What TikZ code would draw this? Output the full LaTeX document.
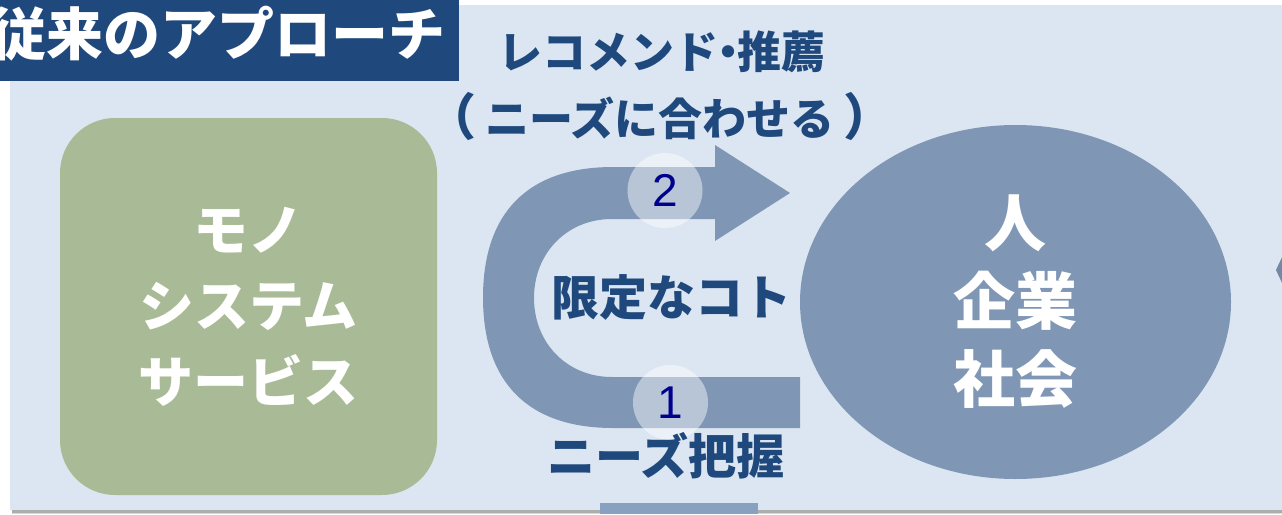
\documentclass[tikz,border=0pt]{standalone}
\usepackage{fontspec}
\setmainfont{Noto Sans CJK JP}
\newfontfamily\numfont{Liberation Sans}
\usetikzlibrary{shapes.geometric}
\definecolor{panelbg}{HTML}{DCE6F2}
\definecolor{titleblue}{HTML}{1F497D}
\definecolor{shapeblue}{HTML}{7F97B5}
\definecolor{boxgreen}{HTML}{A9BB96}
\definecolor{numblue}{HTML}{00008F}
\definecolor{barblue}{HTML}{89A1C0}
\begin{document}
\begin{tikzpicture}[x=1pt,y=-1pt,
  darklabel/.style={text=titleblue, inner sep=0pt, font=\bfseries\fontsize{44}{52}\selectfont},
  biglabel/.style={text=titleblue, inner sep=0pt, font=\bfseries\fontsize{48}{56}\selectfont},
  numcircle/.style={circle, fill=white, fill opacity=0.45, text opacity=1, text=numblue, minimum size=75pt, inner sep=0pt, font=\numfont\fontsize{46}{50}\selectfont},
  whitetext/.style={text=white, align=center}
]
\useasboundingbox (0,0) rectangle (1282,514);
\fill[white] (0,0) rectangle (1282,514);
% panel with shadow
\fill[black!32] (12,508) rectangle (1282,512.5);
\fill[black!15] (12,512.5) rectangle (1282,514);
\fill[panelbg] (10,5) rectangle (1282,510);
% title
\node[fill=titleblue, minimum width=459pt, minimum height=80.5pt, inner sep=0pt, anchor=north west] (titlebox) at (0,0) {};
\node[text=white, inner sep=0pt, font=\bfseries\fontsize{57}{60}\selectfont] (title) at (218,34) {従来のアプローチ};
% left box
\node[fill=boxgreen, rounded corners=55pt, minimum width=377pt, minimum height=377pt, inner sep=0pt,
      whitetext, font=\bfseries\fontsize{55}{76}\selectfont] (mono) at (248.5,306.5) {モノ\\システム\\サービス};
% right ellipse
\node[ellipse, fill=shapeblue, minimum width=431pt, minimum height=354pt, inner sep=0pt,
      whitetext, font=\bfseries\fontsize{62}{78}\selectfont] (hito) at (1015.5,302) {人\\企業\\社会};
% partially visible shape at right edge
\fill[shapeblue!90!black] (1276,270) -- (1283,255) -- (1283,285) -- cycle;
% bottom bar
\fill[barblue] (600,503) rectangle (758,514);
% U-turn arrow
\fill[shapeblue] (715,167) -- (613,167)
  .. controls (528,167) and (483,212.5) .. (483,297.5)
  .. controls (483,382.5) and (528,428) .. (613,428)
  -- (800,428) -- (800,377) -- (612,377)
  .. controls (567,377) and (534,343) .. (534,298)
  .. controls (534,253) and (567,219) .. (612,219)
  -- (715,219) -- (715,241) -- (790,193) -- (715,145) -- cycle;
% number circles
\node[numcircle] (n2) at (665,190.5) {2};
\node[numcircle] (n1) at (670.5,402.5) {1};
% labels
\node[darklabel] (reco) at (662,52) {レコメンド\kern-0.28em・\kern-0.28em推薦};
\node[darklabel] (needs) at (660,116) {{\fontsize{50}{52}\selectfont （}\kern0.2emニーズに合わせる\kern0.2em{\fontsize{50}{52}\selectfont ）}};
\node[biglabel] (koto) at (671,297) {限定なコト};
\node[biglabel] (haaku) at (666,456) {ニーズ把握};
\end{tikzpicture}
\end{document}
